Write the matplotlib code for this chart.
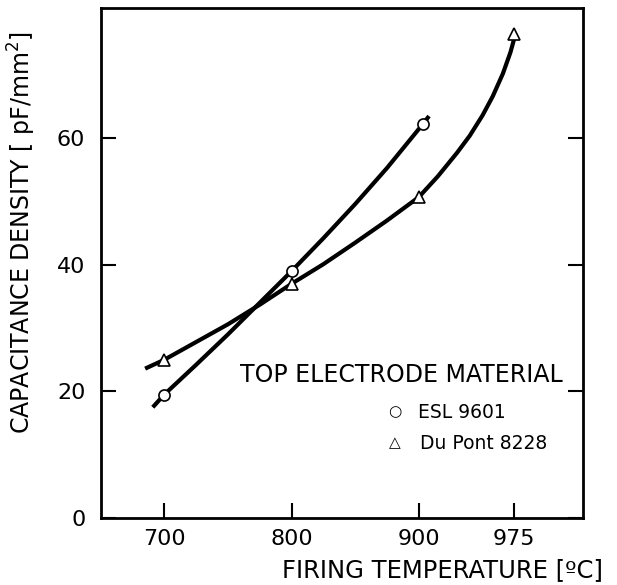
import numpy as np
import matplotlib.pyplot as plt

# measured points
esl_temp = [700, 800, 903]
esl_cap = [19.5, 39.0, 62.2]
dp_temp = [700, 800, 900, 975]
dp_cap = [25.0, 37.0, 50.7, 76.5]

# hand-drawn fit curves
esl_curve_t = [691, 700, 725, 750, 775, 800, 825, 850, 875, 903, 908]
esl_curve_c = [17.5, 19.5, 24.2, 29.0, 34.0, 39.0, 44.2, 49.6, 55.3, 62.2, 63.5]
dp_curve_t = [685, 700, 725, 750, 775, 800, 825, 850, 875, 900, 915, 930, 940,
              950, 958, 966, 972, 975]
dp_curve_c = [23.6, 25.0, 27.8, 30.6, 33.7, 37.0, 40.1, 43.5, 47.0, 50.7, 54.0,
              57.7, 60.4, 63.6, 66.6, 70.2, 73.6, 75.8]

x_ticks = [700, 800, 900, 975]
y_ticks = [0, 20, 40, 60]

plt.rcParams['font.family'] = ['DejaVu Sans']

fig = plt.figure(figsize=(6.17, 5.85), dpi=100)
ax = fig.add_axes([0.163, 0.1145, 0.782, 0.871])

ax.plot(esl_curve_t, esl_curve_c, color='black', lw=3, solid_capstyle='butt',
        solid_joinstyle='round', zorder=2)
ax.plot(dp_curve_t, dp_curve_c, color='black', lw=3, solid_capstyle='butt',
        solid_joinstyle='round', zorder=2)
ax.plot(esl_temp, esl_cap, 'o', ms=8, mfc='white', mec='black', mew=1.2, zorder=3)
ax.plot(dp_temp, dp_cap, '^', ms=9, mfc='white', mec='black', mew=1.2, zorder=3)

ax.set_xlim(650, 1029)
ax.set_ylim(0, 80.5)
ax.set_xticks(x_ticks)
ax.set_yticks(y_ticks)
ax.tick_params(direction='in', length=11, width=1.5, labelsize=16, pad=8,
               right=True, top=False)
ax.tick_params(axis='y', pad=11)
for s in ax.spines.values():
    s.set_linewidth(2)

ax.set_xlabel('FIRING TEMPERATURE [ºC]', fontsize=17.5, loc='right')
ax.set_ylabel('CAPACITANCE DENSITY [ pF/mm$^2$]', fontsize=17, loc='top')
ax.xaxis.set_label_coords(1.041, -0.078)
ax.yaxis.set_label_coords(-0.13, 0.955)

ax.text(0.289, 0.281, 'TOP ELECTRODE MATERIAL', transform=ax.transAxes,
        fontsize=17, va='center', ha='left')
ax.text(0.61, 0.208, '○', transform=ax.transAxes, fontsize=11, va='center', ha='center')
ax.text(0.658, 0.208, 'ESL 9601', transform=ax.transAxes, fontsize=13.5, va='center', ha='left')
ax.text(0.61, 0.147, '△', transform=ax.transAxes, fontsize=11, va='center', ha='center')
ax.text(0.662, 0.147, 'Du Pont 8228', transform=ax.transAxes, fontsize=13.5, va='center', ha='left')

fig.savefig('out.png', dpi=100)
